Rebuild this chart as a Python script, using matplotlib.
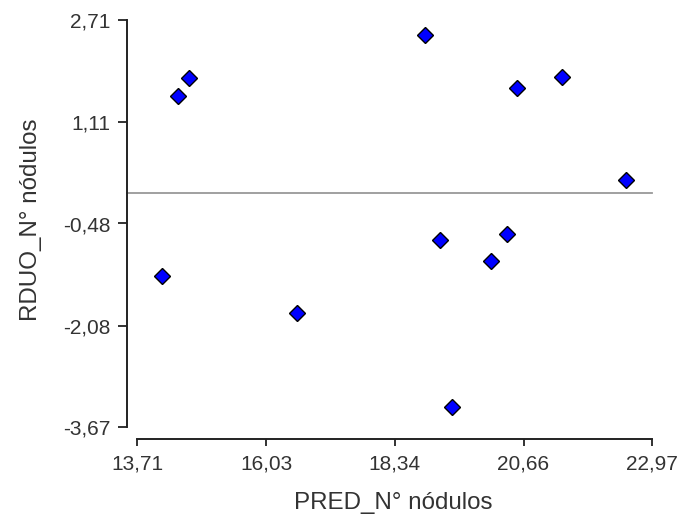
"""
Residuals vs predicted values scatter.
"""

import matplotlib
matplotlib.use("Agg")
import matplotlib.pyplot as plt
from matplotlib.ticker import FixedLocator, FixedFormatter

pred = [14.16, 14.45, 14.65, 16.59, 18.89, 19.16, 19.38, 20.08, 20.37, 20.54, 21.35, 22.50]
resid = [-1.30, 1.52, 1.80, -1.88, 2.47, -0.74, -3.36, -1.07, -0.64, 1.64, 1.82, 0.20]

x_ticks = [13.71, 16.03, 18.34, 20.66, 22.97]
y_ticks = [-3.67, -2.08, -0.48, 1.11, 2.71]
x_labels = ["13,71", "16,03", "18,34", "20,66", "22,97"]
y_labels = ["-3,67", "-2,08", "-0,48", "1,11", "2,71"]

plt.rcParams["font.family"] = ["Liberation Sans", "DejaVu Sans"]

fig = plt.figure(figsize=(6.8, 5.17), dpi=100)
ax = fig.add_axes([137 / 680, 1 - 427 / 517, 515 / 680, 407 / 517])

ax.axhline(0, xmin=-10 / 515, xmax=1, color="#999999", lw=1.3, clip_on=False, zorder=1)
ax.plot(pred, resid, linestyle="none", marker="D", ms=7.8,
        markerfacecolor="#0000ff", markeredgecolor="black", markeredgewidth=1.0,
        clip_on=False, zorder=3)

ax.set_xlim(x_ticks[0], x_ticks[-1])
ax.set_ylim(y_ticks[0], y_ticks[-1])

ax.xaxis.set_major_locator(FixedLocator(x_ticks))
ax.xaxis.set_major_formatter(FixedFormatter(x_labels))
ax.yaxis.set_major_locator(FixedLocator(y_ticks))
ax.yaxis.set_major_formatter(FixedFormatter(y_labels))

for side in ["top", "right"]:
    ax.spines[side].set_visible(False)
ax.spines["left"].set_position(("outward", 7.2))
ax.spines["bottom"].set_position(("outward", 8.6))
for side in ["left", "bottom"]:
    ax.spines[side].set_linewidth(1.4)
    ax.spines[side].set_color("#222222")

ax.tick_params(axis="both", direction="out", width=1.3,
               color="#222222", labelsize=15, labelcolor="#333333")
ax.tick_params(axis="x", length=5, pad=6)
ax.tick_params(axis="y", length=6.5, pad=5.5)

ax.set_xlabel("PRED_N° nódulos", fontsize=17.4, color="#333333")
ax.set_ylabel("RDUO_N° nódulos", fontsize=17.4, color="#333333")
ax.xaxis.set_label_coords(0.497, -0.16)
ax.yaxis.set_label_coords(-0.185, 0.51)

plt.savefig("out.png", dpi=100)
